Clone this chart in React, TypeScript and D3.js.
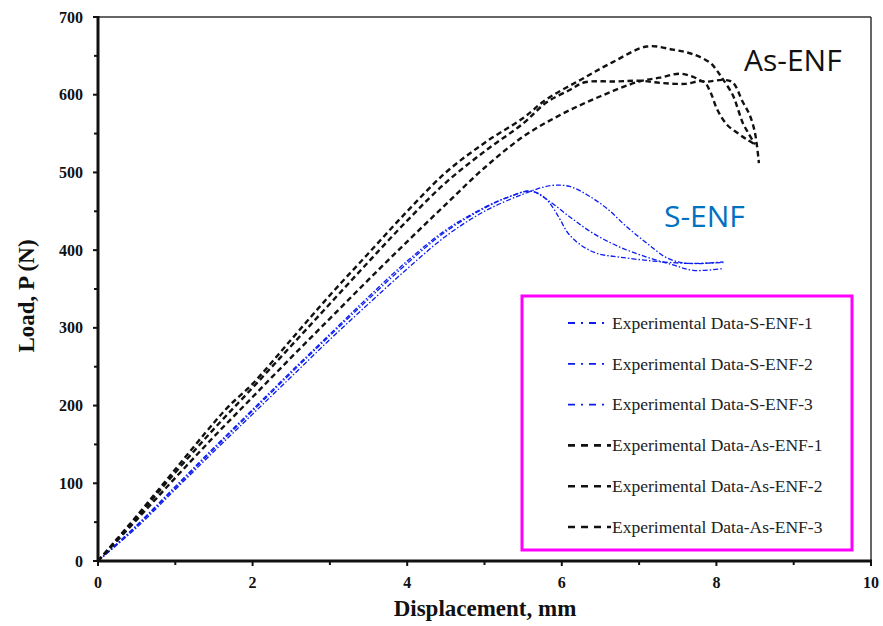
import * as d3 from "d3";

type Pt = [number, number];

// displacement (mm), load (N)
const sEnf1: Pt[] = [
  [0, 0], [0.5, 46], [1, 96], [1.5, 146], [2, 195], [2.5, 244], [3, 292], [3.5, 340],
  [4, 386], [4.5, 426], [5, 455], [5.3, 468], [5.6, 476], [5.76, 469], [5.89, 454],
  [5.98, 439], [6.08, 422], [6.24, 407], [6.45, 396], [6.75, 391], [7.18, 386],
  [7.62, 383], [8.09, 384],
];
const sEnf2: Pt[] = [
  [0, 0], [0.5, 43], [1, 92], [1.5, 141], [2, 189], [2.5, 237], [3, 285], [3.5, 331],
  [4, 376], [4.5, 418], [5, 450], [5.5, 472], [5.85, 483], [6.1, 482], [6.33, 471],
  [6.58, 454], [6.84, 430], [7.1, 409], [7.36, 390], [7.62, 383], [8.09, 385],
];
const sEnf3: Pt[] = [
  [0, 0], [0.5, 45], [1, 94], [1.5, 144], [2, 193], [2.5, 242], [3, 290], [3.5, 337],
  [4, 383], [4.5, 424], [5, 454], [5.3, 468], [5.6, 476], [5.81, 465], [6.1, 443],
  [6.4, 422], [6.75, 404], [7.1, 391], [7.44, 381], [7.7, 374], [8.07, 376],
];
const asEnf1: Pt[] = [
  [0, 0], [0.5, 58], [1, 118], [1.5, 178], [1.7, 200], [2, 228], [2.5, 285], [3, 342],
  [3.5, 396], [4, 450], [4.5, 500], [5, 538], [5.5, 570], [5.8, 594], [6.24, 619],
  [6.66, 642], [7.1, 662], [7.44, 658], [7.7, 652], [7.92, 641], [8.0, 632], [8.07, 622],
  [8.21, 600], [8.28, 581], [8.34, 564], [8.41, 551], [8.5, 536],
];
const asEnf2: Pt[] = [
  [0, 0], [0.5, 56], [1, 114], [1.5, 170], [2, 223], [2.5, 277], [3, 331], [3.5, 385],
  [4, 438], [4.5, 487], [5, 527], [5.5, 563], [5.8, 590], [6.1, 606], [6.3, 616],
  [6.7, 617], [7.0, 618], [7.3, 615], [7.6, 614], [7.83, 617], [7.92, 604], [8.01, 581],
  [8.14, 561], [8.27, 551], [8.4, 542], [8.5, 536],
];
const asEnf3: Pt[] = [
  [0, 0], [0.5, 53], [1, 107], [1.5, 160], [2, 211], [2.5, 262], [3, 312], [3.5, 362],
  [4, 411], [4.5, 459], [5, 506], [5.5, 546], [6, 575], [6.5, 598], [7, 617], [7.27, 622],
  [7.53, 627], [7.7, 623], [7.83, 617], [8.09, 619], [8.21, 616], [8.34, 591], [8.43, 574],
  [8.49, 555], [8.52, 538], [8.55, 512],
];

const seriesNames = [
  "Experimental Data-S-ENF-1",
  "Experimental Data-S-ENF-2",
  "Experimental Data-S-ENF-3",
  "Experimental Data-As-ENF-1",
  "Experimental Data-As-ENF-2",
  "Experimental Data-As-ENF-3",
];
const seriesData = [sEnf1, sEnf2, sEnf3, asEnf1, asEnf2, asEnf3];

const xTicks = [0, 2, 4, 6, 8, 10];
const xMinor = [1, 3, 5, 7, 9];
const yTicks = [0, 100, 200, 300, 400, 500, 600, 700];
const yMinor = [50, 150, 250, 350, 450, 550, 650];

const W = 883;
const H = 626;

export default function App() {
  const x = d3.scaleLinear().domain([0, 10]).range([98, 871]);
  const y = d3.scaleLinear().domain([0, 700]).range([561, 17]);

  const line = d3
    .line<Pt>()
    .x((d) => x(d[0]))
    .y((d) => y(d[1]))
    .curve(d3.curveCatmullRom.alpha(0.5));

  const styleFor = (i: number) =>
    i < 3
      ? { stroke: "#0a1cf0", width: 1.3, dash: "5,2,1.5,2" }
      : { stroke: "#111", width: 2.4, dash: "5.5,3.5" };

  const serif = "'Liberation Serif', 'Times New Roman', serif";
  const sans = "'Open Sans', sans-serif";

  return (
    <svg
      width={W}
      height={H}
      style={{ position: "absolute", left: 0, top: 0, background: "#fff" }}
    >
      {/* frame */}
      <line x1={98} x2={871} y1={17} y2={17} stroke="#333" strokeWidth={1.5} />
      <line x1={871} x2={871} y1={17} y2={561} stroke="#333" strokeWidth={1.5} />

      {/* curves */}
      {seriesData.map((d, i) => {
        const s = styleFor(i);
        return (
          <path
            key={`s-${i}`}
            d={line(d) ?? ""}
            fill="none"
            stroke={s.stroke}
            strokeWidth={s.width}
            strokeDasharray={s.dash}
          />
        );
      })}

      {/* axes */}
      <line x1={98} x2={98} y1={16} y2={562} stroke="#111" strokeWidth={3} />
      <line x1={97} x2={872} y1={561} y2={561} stroke="#111" strokeWidth={3} />
      {yTicks.map((t) => (
        <g key={`yt-${t}`}>
          <line x1={93} x2={98} y1={y(t)} y2={y(t)} stroke="#111" strokeWidth={2} />
          <text
            x={83}
            y={y(t)}
            dy="0.35em"
            textAnchor="end"
            fontFamily={serif}
            fontWeight="bold"
            fontSize={16}
            fill="#111"
          >
            {t}
          </text>
        </g>
      ))}
      {yMinor.map((t) => (
        <line key={`ym-${t}`} x1={94} x2={98} y1={y(t)} y2={y(t)} stroke="#111" strokeWidth={2} />
      ))}
      {xTicks.map((t) => (
        <g key={`xt-${t}`}>
          <line x1={x(t)} x2={x(t)} y1={561} y2={566} stroke="#111" strokeWidth={2} />
          <text
            x={x(t)}
            y={588}
            textAnchor="middle"
            fontFamily={serif}
            fontWeight="bold"
            fontSize={16}
            fill="#111"
          >
            {t}
          </text>
        </g>
      ))}
      {xMinor.map((t) => (
        <line key={`xm-${t}`} x1={x(t)} x2={x(t)} y1={561} y2={565} stroke="#111" strokeWidth={2} />
      ))}

      {/* axis titles */}
      <text
        x={485}
        y={616}
        textAnchor="middle"
        fontFamily={serif}
        fontWeight="bold"
        fontSize={23}
        fill="#111"
      >
        Displacement, mm
      </text>
      <text
        transform="translate(34,296) rotate(-90)"
        textAnchor="middle"
        fontFamily={serif}
        fontWeight="bold"
        fontSize={23}
        fill="#111"
      >
        Load, P (N)
      </text>

      {/* annotations */}
      <text x={744} y={71} fontFamily={sans} fontSize={30} fill="#111">
        As-ENF
      </text>
      <text x={664} y={227} fontFamily={sans} fontSize={30} fill="#0070c0">
        S-ENF
      </text>

      {/* legend */}
      <rect x={522} y={296} width={330} height={254} fill="#fff" stroke="#ff00ff" strokeWidth={3} />
      {seriesNames.map((name, i) => {
        const cy = 323 + i * 40.8;
        const blue = i < 3;
        return (
          <g key={`lg-${i}`}>
            <line
              x1={568}
              x2={blue ? 605 : 611}
              y1={cy}
              y2={cy}
              stroke={blue ? "#0a1cf0" : "#111"}
              strokeWidth={blue ? 1.8 : 2.6}
              strokeDasharray={blue ? "7,6,2,6" : "7,6"}
            />
            <text x={612} y={cy} dy="0.33em" fontFamily={serif} fontSize={17.5} fill="#222">
              {name}
            </text>
          </g>
        );
      })}
    </svg>
  );
}
